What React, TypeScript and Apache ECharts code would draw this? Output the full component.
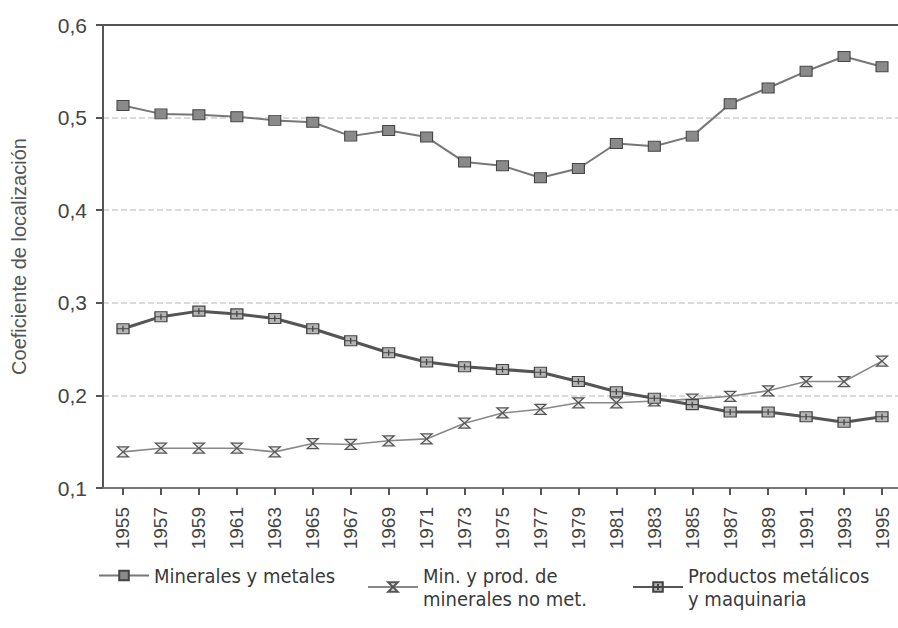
import React, { useEffect, useRef } from "react";
import * as echarts from "echarts";

const years = [1955, 1957, 1959, 1961, 1963, 1965, 1967, 1969, 1971, 1973, 1975, 1977, 1979, 1981, 1983, 1985, 1987, 1989, 1991, 1993, 1995];
const mineralesMetales = [0.513, 0.504, 0.503, 0.501, 0.497, 0.495, 0.48, 0.486, 0.479, 0.452, 0.448, 0.435, 0.445, 0.472, 0.469, 0.48, 0.515, 0.532, 0.55, 0.566, 0.555];
const minNoMet = [0.139, 0.143, 0.143, 0.143, 0.139, 0.148, 0.147, 0.151, 0.153, 0.17, 0.181, 0.185, 0.192, 0.192, 0.194, 0.196, 0.199, 0.205, 0.215, 0.215, 0.237];
const productosMetalicos = [0.272, 0.285, 0.291, 0.288, 0.283, 0.272, 0.259, 0.246, 0.236, 0.231, 0.228, 0.225, 0.215, 0.204, 0.197, 0.19, 0.182, 0.182, 0.177, 0.171, 0.177];
const seriesNames = ["Minerales y metales", "Min. y prod. de\nminerales no met.", "Productos metálicos\ny maquinaria"];
const yTicks = [0.1, 0.2, 0.3, 0.4, 0.5, 0.6];

export default function App() {
  const ref = useRef<HTMLDivElement>(null);
  useEffect(() => {
    if (!ref.current) return;
    const chart = echarts.init(ref.current, null, { renderer: "svg" });
    const pair = (vals: number[]) => years.map((y, i) => [y, vals[i]]);
    const legendFont = "'DejaVu Sans Condensed', 'Liberation Sans Narrow', 'Liberation Sans', Arial, sans-serif";
    const legendText = { fontSize: 20, color: "#3a3a3a", fontFamily: legendFont, lineHeight: 23 };
    chart.setOption({
      animation: false,
      backgroundColor: "#fff",
      textStyle: { fontFamily: "'Liberation Sans', Arial, sans-serif" },
      grid: { left: 103, top: 25, right: 0, bottom: 140 },
      xAxis: [
        {
          type: "value",
          min: 1953.946,
          max: 1995.843,
          axisLine: { show: true, lineStyle: { color: "#777", width: 2 } },
          axisTick: { show: true, customValues: years, length: 7, lineStyle: { color: "#555", width: 2 } },
          axisLabel: {
            customValues: years,
            rotate: 90,
            fontSize: 19,
            color: "#444",
            margin: 19,
            fontFamily: "'Liberation Sans', Arial, sans-serif",
            formatter: (v: number) => String(v),
          },
          splitLine: { show: false },
        },
        {
          type: "value",
          position: "top",
          min: 1953.946,
          max: 1995.843,
          axisLine: { show: true, lineStyle: { color: "#555", width: 2 } },
          axisTick: { show: false },
          axisLabel: { show: false },
          splitLine: { show: false },
        },
      ],
      yAxis: {
        type: "value",
        min: yTicks[0],
        max: yTicks[yTicks.length - 1],
        interval: 0.1,
        name: "Coeficiente de localización",
        nameLocation: "middle",
        nameGap: 74,
        nameTextStyle: { fontSize: 20, color: "#555", fontFamily: "'Liberation Sans', Arial, sans-serif" },
        axisLine: { show: true, lineStyle: { color: "#555", width: 2 } },
        axisTick: { show: true, length: 7, lineStyle: { color: "#555", width: 2 } },
        axisLabel: {
          fontSize: 21,
          color: "#444",
          margin: 16,
          fontFamily: "'Liberation Sans', Arial, sans-serif",
          formatter: (v: number) => v.toFixed(1).replace(".", ","),
        },
        splitLine: { show: true, lineStyle: { color: "#cfcfcf", type: [6, 3], width: 1.5 } },
      },
      legend: [
        { data: [seriesNames[0]], left: 93, top: 559, itemWidth: 50, itemHeight: 12, itemGap: 6, textStyle: legendText },
        { data: [seriesNames[1]], left: 362, top: 559, itemWidth: 50, itemHeight: 12, textStyle: legendText },
        { data: [seriesNames[2]], left: 627, top: 559, itemWidth: 50, itemHeight: 12, textStyle: legendText },
      ],
      series: [
        {
          name: seriesNames[0],
          type: "line",
          data: pair(mineralesMetales),
          symbol: "rect",
          symbolSize: [12, 10],
          lineStyle: { color: "#777", width: 2 },
          itemStyle: { color: "#8a8a8a", borderColor: "#444", borderWidth: 1 },
        },
        {
          name: seriesNames[1],
          type: "line",
          data: pair(minNoMet),
          symbol: "path://M0,0 L10,0 L0,10 L10,10 Z",
          symbolSize: [11, 10],
          lineStyle: { color: "#888", width: 1.6 },
          itemStyle: { color: "#e4e4e4", borderColor: "#555", borderWidth: 1.3 },
        },
        {
          name: seriesNames[2],
          type: "line",
          data: pair(productosMetalicos),
          symbol: "path://M0,0 L12,0 L12,10 L0,10 Z M0,5 L12,5 M6,2 L6,8",
          symbolSize: [12, 10],
          lineStyle: { color: "#555", width: 3 },
          itemStyle: { color: "#b5b5b5", borderColor: "#444", borderWidth: 1.2 },
        },
      ],
    });
    return () => chart.dispose();
  }, []);
  return <div ref={ref} style={{ width: 898, height: 628, position: "absolute", left: 0, top: 0 }} />;
}
